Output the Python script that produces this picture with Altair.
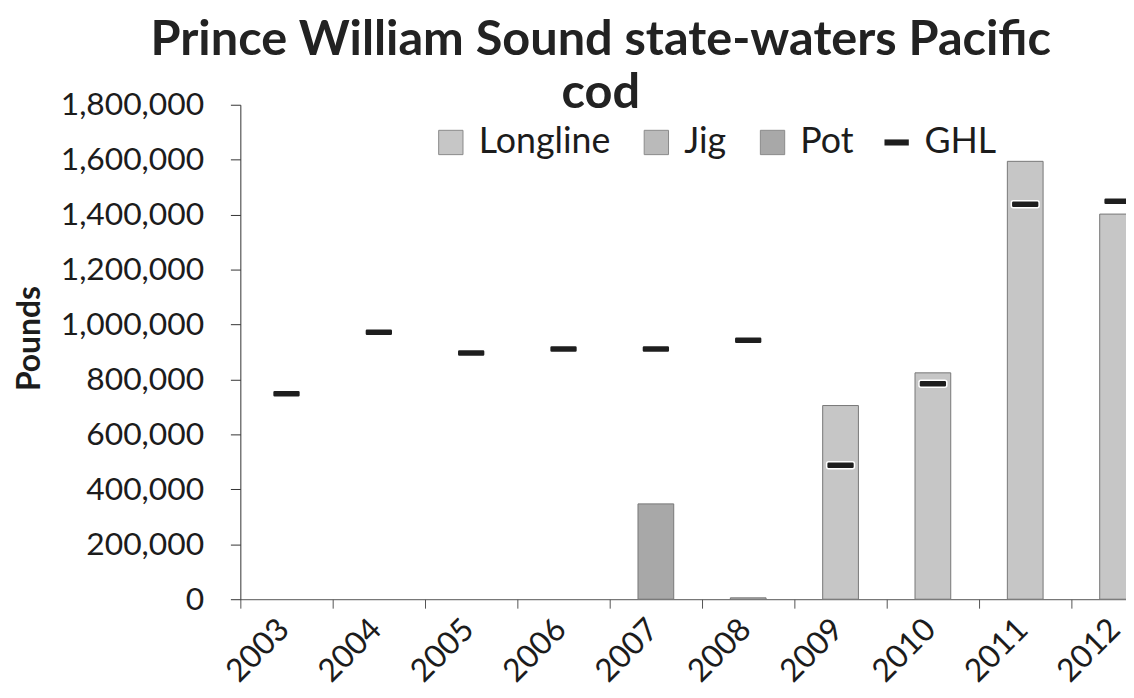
import altair as alt
import pandas as pd

years = ["2003", "2004", "2005", "2006", "2007", "2008", "2009", "2010", "2011", "2012"]
longline = [0, 0, 0, 0, 0, 0, 705000, 824000, 1594000, 1402000]
jig = [0, 0, 0, 0, 0, 5000, 0, 0, 0, 0]
pot = [0, 0, 0, 0, 347000, 0, 0, 0, 0, 0]
ghl = [748000, 972000, 896000, 911000, 911000, 943000, 488000, 784000, 1438000, 1449000]

gears = ["Longline", "Jig", "Pot"]
gear_colors = ["#c6c6c6", "#bababa", "#a8a8a8"]
y_ticks = [0, 200000, 400000, 600000, 800000, 1000000, 1200000, 1400000, 1600000, 1800000]
title_lines = ["Prince William Sound state-waters Pacific", "cod"]

FONT = "Lato"
TEXT = "#1c1c1c"

rows = []
for i, yr in enumerate(years):
    for k, (g, vals) in enumerate(zip(gears, [longline, jig, pot])):
        if vals[i] > 0:
            rows.append({"Year": yr, "Gear": g, "order": k, "Pounds": vals[i]})
bars_df = pd.DataFrame(rows)
ghl_df = pd.DataFrame({"Year": years, "Series": ["GHL"] * len(years), "Pounds": ghl})

x_enc = alt.X(
    "Year:N",
    scale=alt.Scale(domain=years, range=[0, 930], paddingInner=0, paddingOuter=0),
    axis=alt.Axis(
        title=None, labelAngle=-45, labelAlign="right", labelBaseline="middle",
        labelFontSize=32, labelFont=FONT, labelColor=TEXT, labelPadding=16,
        labelOffset=-3,
        tickBand="extent", tickSize=9, tickColor="#555555", domainColor="#555555",
        grid=False,
    ),
)
y_enc = alt.Y(
    "Pounds:Q",
    stack="zero",
    scale=alt.Scale(domain=[0, 1800000], nice=False),
    axis=alt.Axis(
        values=y_ticks, format=",d", title="Pounds", titleFont=FONT, titleFontSize=32,
        titleFontWeight="bold", titleColor=TEXT, titleX=-212, titleY=235,
        titleAlign="center", titleBaseline="middle", titleAngle=270,
        labelFont=FONT, labelFontSize=32, labelColor=TEXT, labelPadding=27,
        tickSize=10, tickColor="#333333", domainColor="#333333", grid=False,
    ),
)

bars = alt.Chart(bars_df).mark_bar(
    width=alt.RelativeBandSize(0.387), stroke="#777777", strokeWidth=1, clip=True
).encode(
    x=x_enc,
    y=y_enc,
    color=alt.Color(
        "Gear:N",
        scale=alt.Scale(domain=gears, range=gear_colors),
        legend=alt.Legend(
            title=None, orient="none", legendX=194, legendY=20, direction="horizontal",
            symbolType="square", symbolSize=600, symbolStrokeColor="#8a8a8a",
            symbolStrokeWidth=1, labelFontSize=36, labelFont=FONT, labelColor=TEXT,
            columnPadding=28, labelOffset=10, padding=0, symbolOpacity=1,
        ),
    ),
    order=alt.Order("order:Q", sort="ascending"),
)

ticks = alt.Chart(ghl_df).mark_tick(
    size=28, thickness=7, cornerRadius=2, stroke="white", strokeWidth=1.5, clip=True, opacity=1
).encode(
    x=alt.X("Year:N"),
    y=alt.Y("Pounds:Q"),
    color=alt.Color(
        "Series:N",
        scale=alt.Scale(domain=["GHL"], range=["#1e1e1e"]),
        legend=alt.Legend(
            title=None, orient="none", legendX=643, legendY=20, direction="horizontal",
            symbolType="M-1,-0.25L1,-0.25L1,0.25L-1,0.25Z", symbolSize=600,
            symbolStrokeWidth=0, labelFontSize=36, labelFont=FONT, labelColor=TEXT,
            labelOffset=10, padding=0, symbolOpacity=1,
        ),
    ),
)

chart = alt.layer(bars, ticks).resolve_scale(color="independent").properties(
    width=892,
    height=498,
    padding={"left": 234, "top": 95, "right": 0, "bottom": 89},
    autosize=alt.AutoSizeParams(type="none"),
    background="white",
    title=alt.TitleParams(
        text=title_lines, font=FONT, fontSize=49, fontWeight="bold", color="#222222",
        anchor="middle", frame="group", dx=-83, dy=33, lineHeight=53,
    ),
).configure_view(stroke=None)

chart.save("out.html", embed_options={"renderer": "svg", "actions": False})
